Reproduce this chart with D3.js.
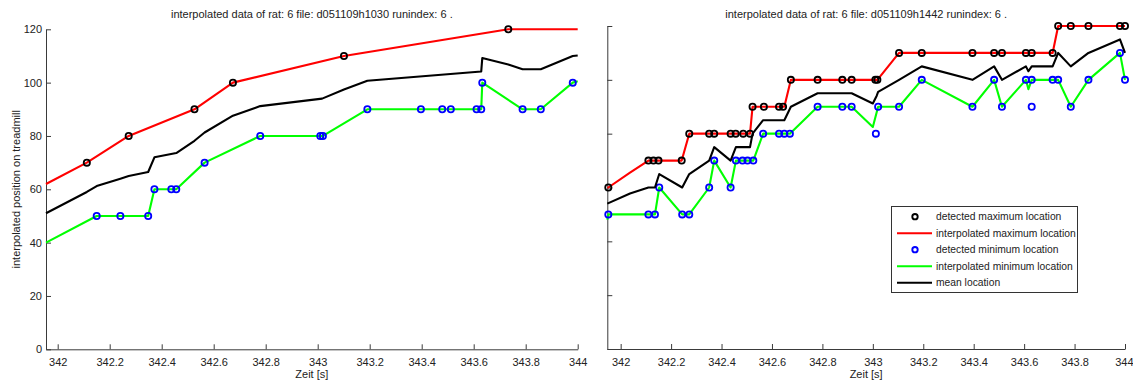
<!DOCTYPE html>
<html>
<head>
<meta charset="utf-8">
<script src="https://cdn.jsdelivr.net/npm/d3@7"></script>
<style>
  html, body { margin: 0; padding: 0; background: #fff; }
  svg { display: block; font-family: "Liberation Sans", Arial, sans-serif; }
</style>
</head>
<body>
<svg id="chart" width="1133" height="381"></svg>
<script>
// ---------- tick labels ----------
const xTickValues = [342, 342.2, 342.4, 342.6, 342.8, 343, 343.2, 343.4, 343.6, 343.8, 344];
const xTickLabels = ["342", "342.2", "342.4", "342.6", "342.8", "343", "343.2", "343.4", "343.6", "343.8", "344"];
const yTickValues = [0, 20, 40, 60, 80, 100, 120];
const yTickLabels = ["0", "20", "40", "60", "80", "100", "120"];

const leftTitle = "interpolated data of rat: 6 file: d051109h1030 runindex: 6 .";
const rightTitle = "interpolated data of rat: 6 file: d051109h1442 runindex: 6 .";
const xAxisLabel = "Zeit [s]";
const yAxisLabel = "interpolated position on treadmill";

const legendLabels = ["detected maximum location", "interpolated maximum location",
  "detected minimum location", "interpolated minimum location", "mean location"];

// ---------- left panel (d051109h1030) ----------
const leftXDomain = [341.955, 344];
const leftMaxDetT = [342.112, 342.273, 342.526, 342.674, 343.101, 343.733];
const leftMaxDetV = [70, 80, 90, 100, 110, 120];
const leftMaxT = [341.955, 342.112, 342.273, 342.526, 342.674, 343.101, 343.733, 344.0];
const leftMaxV = [62, 70, 80, 90, 100, 110, 120, 120];
const leftMinDetT = [342.150, 342.241, 342.348, 342.372, 342.437, 342.456, 342.565, 342.779,
  343.010, 343.020, 343.191, 343.397, 343.479, 343.512, 343.611, 343.629, 343.633, 343.788, 343.858, 343.981];
const leftMinDetV = [50, 50, 50, 60, 60, 60, 70, 80,
  80, 80, 90, 90, 90, 90, 90, 90, 100, 90, 90, 100];
const leftMinT = [341.955, 342.150, 342.241, 342.348, 342.372, 342.437, 342.456, 342.565, 342.779,
  343.010, 343.020, 343.191, 343.397, 343.479, 343.512, 343.611, 343.629, 343.633, 343.788, 343.858, 343.981, 344.0];
const leftMinV = [40, 50, 50, 50, 60, 60, 60, 70, 80,
  80, 80, 90, 90, 90, 90, 90, 90, 100, 90, 90, 100, 100.5];
const leftMeanT = [341.955, 342.112, 342.150, 342.241, 342.273, 342.348, 342.372, 342.456, 342.526, 342.565,
  342.674, 342.779, 343.017, 343.101, 343.191, 343.629, 343.633, 343.733, 343.788, 343.858, 343.981, 344.0];
const leftMeanV = [51, 59, 61.2, 64, 65, 66.5, 72, 73.6, 78.2, 81.3,
  87.6, 91.2, 94, 97.4, 100.7, 104.2, 109.2, 106.8, 105, 105, 110, 110.2];

// ---------- right panel (d051109h1442) ----------
const rightXDomain = [341.947, 344];
const rightMaxDetT = [341.951, 342.110, 342.130, 342.150, 342.242, 342.272, 342.351, 342.371, 342.436, 342.456,
  342.486, 342.513, 342.523, 342.568, 342.628, 342.644, 342.675, 342.781, 342.879, 342.916, 343.010, 343.018,
  343.104, 343.194, 343.395, 343.481, 343.512, 343.607, 343.630, 343.713, 343.735, 343.785, 343.855, 343.980, 344.0];
const rightMaxDetV = [60, 70, 70, 70, 70, 80, 80, 80, 80, 80,
  80, 80, 90, 90, 90, 90, 100, 100, 100, 100, 100, 100,
  110, 110, 110, 110, 110, 110, 110, 110, 120, 120, 120, 120, 120];
const rightMaxT = [341.947, 341.951, 342.037, 342.110, 342.242, 342.272, 342.513, 342.523, 342.649, 342.675,
  343.018, 343.104, 343.713, 343.735, 344.0];
const rightMaxV = [60, 60, 65.5, 70, 70, 80, 80, 90, 90, 100,
  100, 110, 110, 120, 120];
const rightMinDetT = [341.951, 342.110, 342.136, 342.153, 342.244, 342.272, 342.351, 342.371, 342.436, 342.457,
  342.483, 342.503, 342.526, 342.565, 342.628, 342.649, 342.671, 342.781, 342.879, 342.916, 343.012, 343.021,
  343.104, 343.194, 343.395, 343.481, 343.512, 343.607, 343.630, 343.630, 343.713, 343.735, 343.785, 343.855,
  343.980, 344.0];
const rightMinDetV = [50, 50, 50, 60, 50, 50, 60, 70, 60, 70,
  70, 70, 70, 80, 80, 80, 80, 90, 90, 90, 80, 90,
  90, 100, 90, 100, 90, 100, 100, 90, 100, 100, 90, 100,
  110, 100];
const rightMinT = [341.947, 341.951, 342.110, 342.136, 342.153, 342.244, 342.272, 342.351, 342.371, 342.436,
  342.457, 342.526, 342.565, 342.671, 342.781, 342.916, 343.000, 343.021, 343.104, 343.194, 343.395, 343.481,
  343.512, 343.607, 343.617, 343.630, 343.735, 343.785, 343.855, 343.980, 344.0];
const rightMinV = [48, 50, 50, 50, 60, 50, 50, 60, 70, 60,
  70, 70, 80, 80, 90, 90, 82.5, 90, 90, 100, 90, 100,
  90, 100, 96.5, 100, 100, 90, 100, 110, 100];
const rightMeanT = [341.947, 342.037, 342.110, 342.136, 342.153, 342.244, 342.272, 342.351, 342.371, 342.436,
  342.457, 342.513, 342.523, 342.565, 342.649, 342.675, 342.781, 342.916, 343.000, 343.015, 343.021, 343.104,
  343.194, 343.395, 343.481, 343.512, 343.607, 343.617, 343.630, 343.713, 343.735, 343.785, 343.855, 343.980, 344.0];
const rightMeanV = [54, 57.8, 60, 60, 65, 60, 65, 70, 75, 70,
  75, 75, 80, 85, 85, 90, 95, 95, 91.2, 94, 95.5, 100,
  105, 100, 105, 100, 105, 103.2, 105, 105, 110, 105, 110, 115, 110];

// ---------- drawing ----------
const svg = d3.select("#chart");
const FONT = 11;
const TXT = "#222";
const AX = "#3a3a3a";

function zip(t, v) { return t.map((d, i) => [d, v[i]]); }

function drawPanel(cfg) {
  const x = d3.scaleLinear().domain(cfg.xDomain).range([cfg.left, cfg.right]);
  const y = d3.scaleLinear().domain([0, 120]).range([cfg.bottom, cfg.top]);
  const g = svg.append("g");

  // axes (MATLAB style: inward ticks, no box)
  const xAxis = d3.axisBottom(x).tickValues(xTickValues)
    .tickFormat((d, i) => xTickLabels[i]).tickSizeInner(-5).tickSizeOuter(0).tickPadding(9);
  const gx = g.append("g").attr("transform", `translate(0,${cfg.bottom})`).call(xAxis);
  const yAxis = d3.axisLeft(y).tickValues(yTickValues)
    .tickFormat((d, i) => cfg.yLabels ? yTickLabels[i] : "").tickSizeInner(-5).tickSizeOuter(0).tickPadding(4);
  const gy = g.append("g").attr("transform", `translate(${cfg.left},0)`).call(yAxis);
  [gx, gy].forEach(a => {
    a.select(".domain").attr("stroke", AX).attr("stroke-width", 1);
    a.selectAll(".tick line").attr("stroke", AX);
    a.selectAll(".tick text").attr("fill", TXT).style("font-size", FONT + "px")
      .style("font-family", '"Liberation Sans", Arial, sans-serif');
  });
  // keep the last x tick label inside the page
  if (cfg.right > 1100) {
    gx.selectAll(".tick text").filter((d, i) => i === xTickValues.length - 1)
      .attr("text-anchor", "end").attr("x", 8);
  }

  const line = d3.line().x(d => x(d[0])).y(d => y(d[1]));
  const drawLine = (t, v, color) => g.append("path").datum(zip(t, v))
    .attr("d", line).attr("fill", "none").attr("stroke", color)
    .attr("stroke-width", 2.1).attr("stroke-linejoin", "round");
  const drawDots = (t, v, color) => g.append("g").selectAll("circle").data(zip(t, v)).join("circle")
    .attr("cx", d => x(d[0])).attr("cy", d => y(d[1])).attr("r", 3.1)
    .attr("fill", "none").attr("stroke", color).attr("stroke-width", 1.8);

  drawLine(cfg.maxT, cfg.maxV, "#ff0000");
  drawDots(cfg.maxDetT, cfg.maxDetV, "#000000");
  drawLine(cfg.minT, cfg.minV, "#00ff00");
  drawDots(cfg.minDetT, cfg.minDetV, "#0000ff");
  drawLine(cfg.meanT, cfg.meanV, "#000000");

  const cx = (cfg.left + cfg.right) / 2;
  g.append("text").attr("x", cx).attr("y", 18).attr("text-anchor", "middle")
    .attr("fill", TXT).style("font-size", FONT + "px").text(cfg.title);
  g.append("text").attr("x", cx).attr("y", 378).attr("text-anchor", "middle")
    .attr("fill", TXT).style("font-size", FONT + "px").text(xAxisLabel);
  return { x, y, g };
}

drawPanel({
  left: 46, right: 577.7, top: 29.3, bottom: 349.3, xDomain: leftXDomain, yLabels: true,
  title: leftTitle,
  maxT: leftMaxT, maxV: leftMaxV, maxDetT: leftMaxDetT, maxDetV: leftMaxDetV,
  minT: leftMinT, minV: leftMinV, minDetT: leftMinDetT, minDetV: leftMinDetV,
  meanT: leftMeanT, meanV: leftMeanV
});
drawPanel({
  left: 607.3, right: 1125, top: 26, bottom: 349, xDomain: rightXDomain, yLabels: false,
  title: rightTitle,
  maxT: rightMaxT, maxV: rightMaxV, maxDetT: rightMaxDetT, maxDetV: rightMaxDetV,
  minT: rightMinT, minV: rightMinV, minDetT: rightMinDetT, minDetV: rightMinDetV,
  meanT: rightMeanT, meanV: rightMeanV
});

// y axis label
svg.append("text").attr("transform", "translate(19.5,189.3) rotate(-90)")
  .attr("text-anchor", "middle").attr("fill", TXT).style("font-size", FONT + "px").text(yAxisLabel);

// legend
const legendTypes = [
  { kind: "dot", color: "#000000" },
  { kind: "line", color: "#ff0000" },
  { kind: "dot", color: "#0000ff" },
  { kind: "line", color: "#00ff00" },
  { kind: "line", color: "#000000" }
];
const lg = svg.append("g");
lg.append("rect").attr("x", 891.5).attr("y", 206.5).attr("width", 186).attr("height", 86)
  .attr("fill", "#fff").attr("stroke", "#333").attr("stroke-width", 1);
const rowY = d3.scalePoint().domain(d3.range(legendLabels.length)).range([216.7, 282.7]);
legendLabels.forEach((lab, i) => {
  const yy = rowY(i);
  const t = legendTypes[i];
  if (t.kind === "line") {
    lg.append("line").attr("x1", 897).attr("x2", 932).attr("y1", yy).attr("y2", yy)
      .attr("stroke", t.color).attr("stroke-width", 2);
  } else {
    lg.append("circle").attr("cx", 915).attr("cy", yy).attr("r", 2.7)
      .attr("fill", "none").attr("stroke", t.color).attr("stroke-width", 1.9);
  }
  lg.append("text").attr("x", 936).attr("y", yy).attr("dy", "0.35em").attr("fill", TXT)
    .style("font-size", "10.3px").text(lab);
});
</script>
</body>
</html>
